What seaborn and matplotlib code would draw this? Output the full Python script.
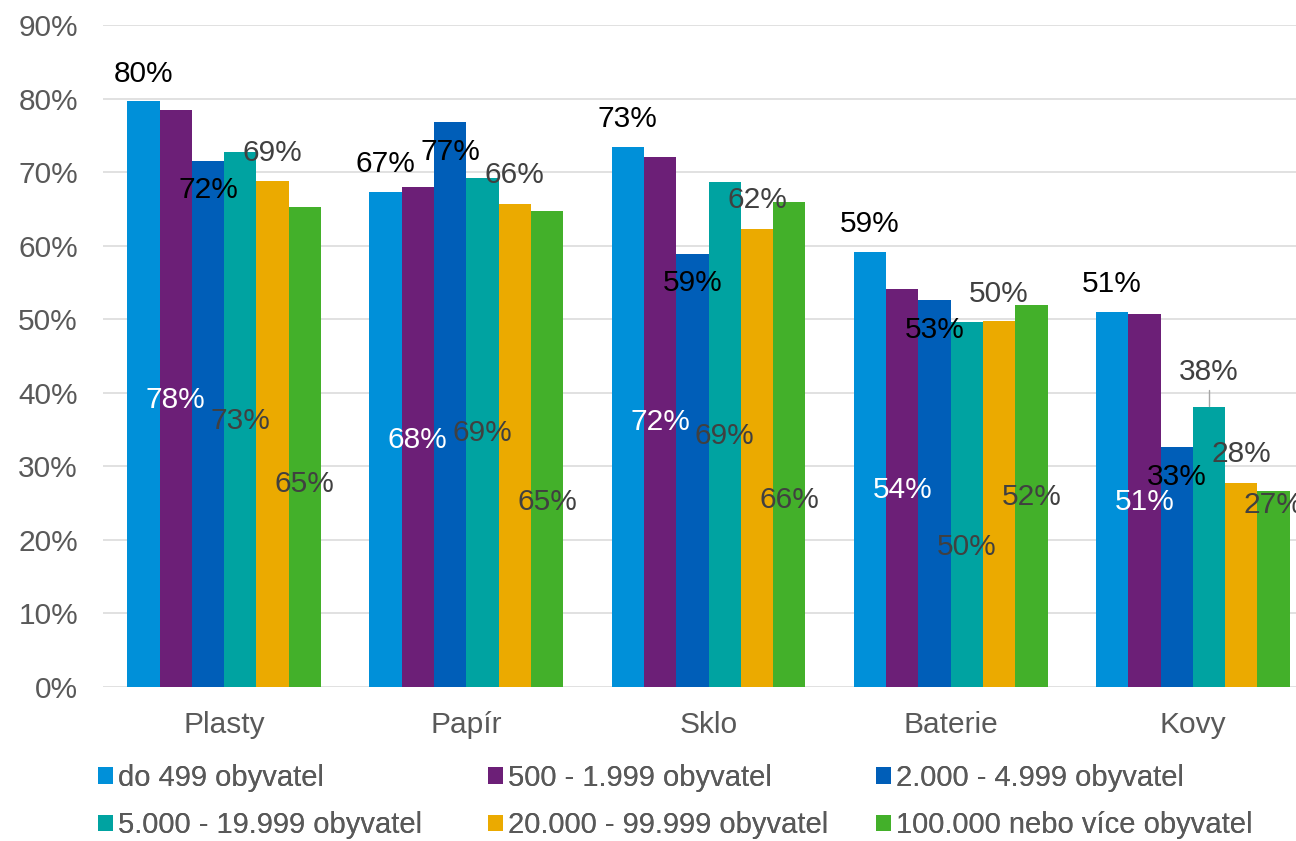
import pandas as pd
import numpy as np
import matplotlib.pyplot as plt
import seaborn as sns
from matplotlib.patches import Patch

# Data (percent)
categories = ["Plasty", "Papír", "Sklo", "Baterie", "Kovy"]
series = ["do 499 obyvatel", "500 - 1.999 obyvatel", "2.000 - 4.999 obyvatel",
          "5.000 - 19.999 obyvatel", "20.000 - 99.999 obyvatel", "100.000 nebo více obyvatel"]
do_499 = [79.6, 67.3, 73.4, 59.1, 51.0]
s_500_1999 = [78.4, 68.0, 72.1, 54.1, 50.7]
s_2000_4999 = [71.5, 76.8, 58.9, 52.6, 32.6]
s_5000_19999 = [72.7, 69.2, 68.7, 49.6, 38.0]
s_20000_99999 = [68.8, 65.7, 62.3, 49.7, 27.8]
s_100000_plus = [65.2, 64.7, 65.9, 52.0, 26.6]
values = [do_499, s_500_1999, s_2000_4999, s_5000_19999, s_20000_99999, s_100000_plus]

# where the data labels sit (y in chart units), per series / category
label_y = [
    [83.3, 71.1, 77.2, 62.9, 54.8],
    [39.0, 33.6, 36.0, 26.8, 25.1],
    [67.6, 72.7, 54.9, 48.5, 28.5],
    [36.2, 34.5, 34.1, 19.0, 42.8],
    [72.6, 69.6, 66.2, 53.4, 31.7],
    [27.6, 25.1, 25.4, 25.8, 24.7],
]
colors = ["#0090D9", "#6C1F77", "#005EB8", "#00A3A1", "#EBAA00", "#43B02A"]
label_colors = ["#000000", "#FFFFFF", "#000000", "#404040", "#404040", "#404040"]

df = pd.DataFrame({
    "cat": np.repeat([categories], len(series), axis=0).ravel(),
    "series": np.repeat(series, len(categories)),
    "val": np.ravel(values),
})

sns.set_style("white")
plt.rcParams['font.family'] = ['Liberation Sans', 'DejaVu Sans']
fs = 21.5

fig = plt.figure(figsize=(12.96, 8.41), dpi=100)
ax = fig.add_axes([103 / 1296, 1 - 687 / 841, 1211 / 1296, 662 / 841])

sns.barplot(data=df, x="cat", y="val", hue="series", hue_order=series,
            palette=colors, saturation=1, width=0.8, linewidth=0, ax=ax, legend=False)

ax.set_ylim(0, 90)
ax.set_xlim(-0.5, 4.5)
ax.set_yticks(range(0, 91, 10))
ax.set_yticklabels([f"{t}%" for t in range(0, 91, 10)])
ax.yaxis.grid(True, color="#d9d9d9", linewidth=1.1)
ax.set_axisbelow(True)
for s in ["top", "right", "left", "bottom"]:
    ax.spines[s].set_visible(False)
ax.tick_params(axis="both", length=0, labelsize=fs, labelcolor="#595959")
ax.tick_params(axis="y", pad=18)
ax.tick_params(axis="x", pad=17)
ax.set_xlabel("")
ax.set_ylabel("")

# data labels
for i, cont in enumerate(ax.containers):
    for j, bar in enumerate(cont):
        x = bar.get_x() + bar.get_width() / 2
        ax.text(x, label_y[i][j], f"{round(values[i][j])}%", ha="center", va="center",
                fontsize=fs, color=label_colors[i], clip_on=False)

# leader line for the 38% label
b = ax.containers[3][4]
bx = b.get_x() + b.get_width() / 2
ax.plot([bx, bx], [values[3][4] + 0.2, 40.4], color="#a6a6a6", linewidth=1)

# legend: three fixed-width columns, filled row by row
col_x = [98, 488, 876]
for c in range(3):
    idx = [c, c + 3]
    handles = [Patch(facecolor=colors[k], edgecolor="none") for k in idx]
    leg = fig.legend(handles, [series[k] for k in idx], loc="upper left",
                     bbox_to_anchor=(col_x[c] / 1296, 1 - 764 / 841),
                     ncols=1, frameon=False, fontsize=21, labelcolor="#595959",
                     handlelength=0.5, handleheight=0.5, handletextpad=0.2,
                     labelspacing=0.66, borderpad=0, borderaxespad=0)
    fig.add_artist(leg)

fig.savefig("out.png", dpi=100)
